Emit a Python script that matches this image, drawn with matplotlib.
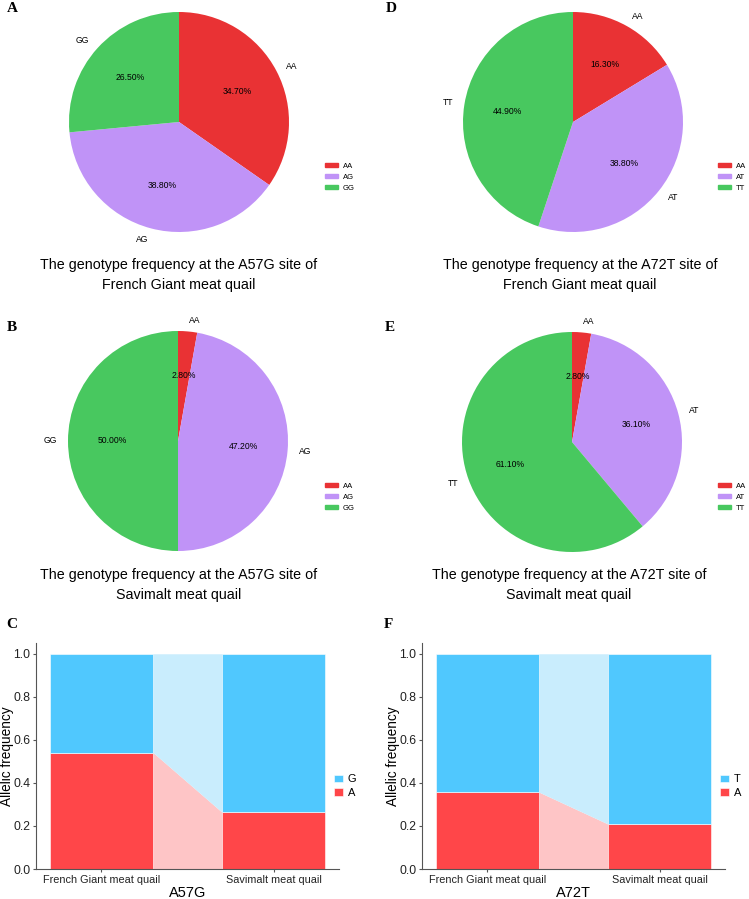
import matplotlib.pyplot as plt
from matplotlib.patches import Patch

plt.rcParams['font.family'] = ['Liberation Sans', 'DejaVu Sans']

# pie data
geno_a57g = ['AA', 'AG', 'GG']
geno_a72t = ['AA', 'AT', 'TT']
french_a57g = [34.7, 38.8, 26.5]
savimalt_a57g = [2.8, 47.2, 50.0]
french_a72t = [16.3, 38.8, 44.9]
savimalt_a72t = [2.8, 36.1, 61.1]

# allele frequency data (A allele, other allele)
breeds = ['French Giant meat quail', 'Savimalt meat quail']
a57g_A = [0.541, 0.264]
a57g_G = [0.459, 0.736]
a72t_A = [0.357, 0.209]
a72t_T = [0.643, 0.791]

pie_colors = ['#E93234', '#C093F7', '#48C85F']
blue, red = '#50C8FE', '#FF4649'
light_blue, light_red = '#C9EDFD', '#FEC5C6'

W, H = 749, 899
fig = plt.figure(figsize=(W / 100, H / 100), dpi=100)


def fx(x):
    return x / W


def fy(y):
    return 1 - y / H


def pie_panel(cx, cy, vals, labels, title, tx, ty, lx, ly):
    R = 110
    k = 1.3
    ax = fig.add_axes([fx(cx - k * R), fy(cy + k * R), 2 * k * R / W, 2 * k * R / H])
    ax.pie(vals, labels=labels, colors=pie_colors, startangle=90, counterclock=False,
           autopct=lambda p: '%.2f%%' % p, pctdistance=0.6, labeldistance=1.1,
           textprops={'fontsize': 6.2})
    ax.set_xlim(-k, k)
    ax.set_ylim(-k, k)
    ax.set_aspect('equal')
    ax.axis('off')
    fig.text(fx(tx), fy(ty), title, ha='center', va='center', fontsize=10.3, linespacing=1.5)
    handles = [Patch(color=c) for c in pie_colors]
    fig.legend(handles, labels, loc='upper left', bbox_to_anchor=(fx(lx), fy(ly)),
               frameon=False, fontsize=5.5, handlelength=1.7, handleheight=0.5,
               labelspacing=0.5, handletextpad=0.6, borderpad=0, borderaxespad=0)


pie_panel(179, 122, french_a57g, geno_a57g,
          'The genotype frequency at the A57G site of\nFrench Giant meat quail', 179, 275, 325, 163)
pie_panel(178, 441, savimalt_a57g, geno_a57g,
          'The genotype frequency at the A57G site of\nSavimalt meat quail', 179, 585, 325, 483)
pie_panel(573, 122, french_a72t, geno_a72t,
          'The genotype frequency at the A72T site of\nFrench Giant meat quail', 580, 275, 718, 163)
pie_panel(572, 442, savimalt_a72t, geno_a72t,
          'The genotype frequency at the A72T site of\nSavimalt meat quail', 569, 585, 718, 483)


def bar_panel(left, a_vals, b_vals, b_name, site):
    ax = fig.add_axes([fx(left), fy(869), 303 / W, (869 - 643) / H])
    x = [0, 1]
    w = 0.6
    ax.bar(x, a_vals, width=w, color=red, edgecolor='white', linewidth=0.4, label='A')
    ax.bar(x, b_vals, width=w, bottom=a_vals, color=blue, edgecolor='white', linewidth=0.4,
           label=b_name)
    xs = [x[0] + w / 2, x[1] - w / 2]
    ax.fill_between(xs, [0, 0], a_vals, color=light_red, linewidth=0)
    ax.fill_between(xs, a_vals, [1, 1], color=light_blue, linewidth=0)
    ax.set_xlim(-0.38, 1.38)
    ax.set_ylim(0, 1.05)
    ax.set_xticks(x)
    ax.set_xticklabels(breeds, fontsize=7.8)
    ax.set_yticks([0, 0.2, 0.4, 0.6, 0.8, 1.0])
    ax.set_yticklabels(['0.0', '0.2', '0.4', '0.6', '0.8', '1.0'], fontsize=8.8)
    ax.tick_params(length=2.5, color='#555555', labelcolor='#222222', pad=1.5)
    for s in ['top', 'right']:
        ax.spines[s].set_visible(False)
    for s in ['left', 'bottom']:
        ax.spines[s].set_color('#555555')
        ax.spines[s].set_linewidth(0.8)
    ax.set_xlabel(site, fontsize=10.5, va='center')
    ax.xaxis.set_label_coords(0.5, -0.106)
    ax.set_ylabel('Allelic frequency', fontsize=9.8, va='center')
    ax.yaxis.set_label_coords(-0.096, 0.5)
    h, l = ax.get_legend_handles_labels()
    ax.legend(h[::-1], l[::-1], loc='center left', bbox_to_anchor=(0.983, 0.367), frameon=False,
              fontsize=8, handlelength=0.8, handleheight=0.65, labelspacing=0.3,
              handletextpad=0.45, borderpad=0, borderaxespad=0)


bar_panel(36, a57g_A, a57g_G, 'G', 'A57G')
bar_panel(422, a72t_A, a72t_T, 'T', 'A72T')

letters = [('A', 12, 8), ('B', 12, 327), ('C', 12, 624),
           ('D', 391, 8), ('E', 390, 327), ('F', 388, 624)]
for s, x, y in letters:
    fig.text(fx(x), fy(y), s, ha='center', va='center', fontsize=11, fontweight='bold',
             family=['Liberation Serif', 'DejaVu Serif'])

fig.savefig('out.png', dpi=100)
